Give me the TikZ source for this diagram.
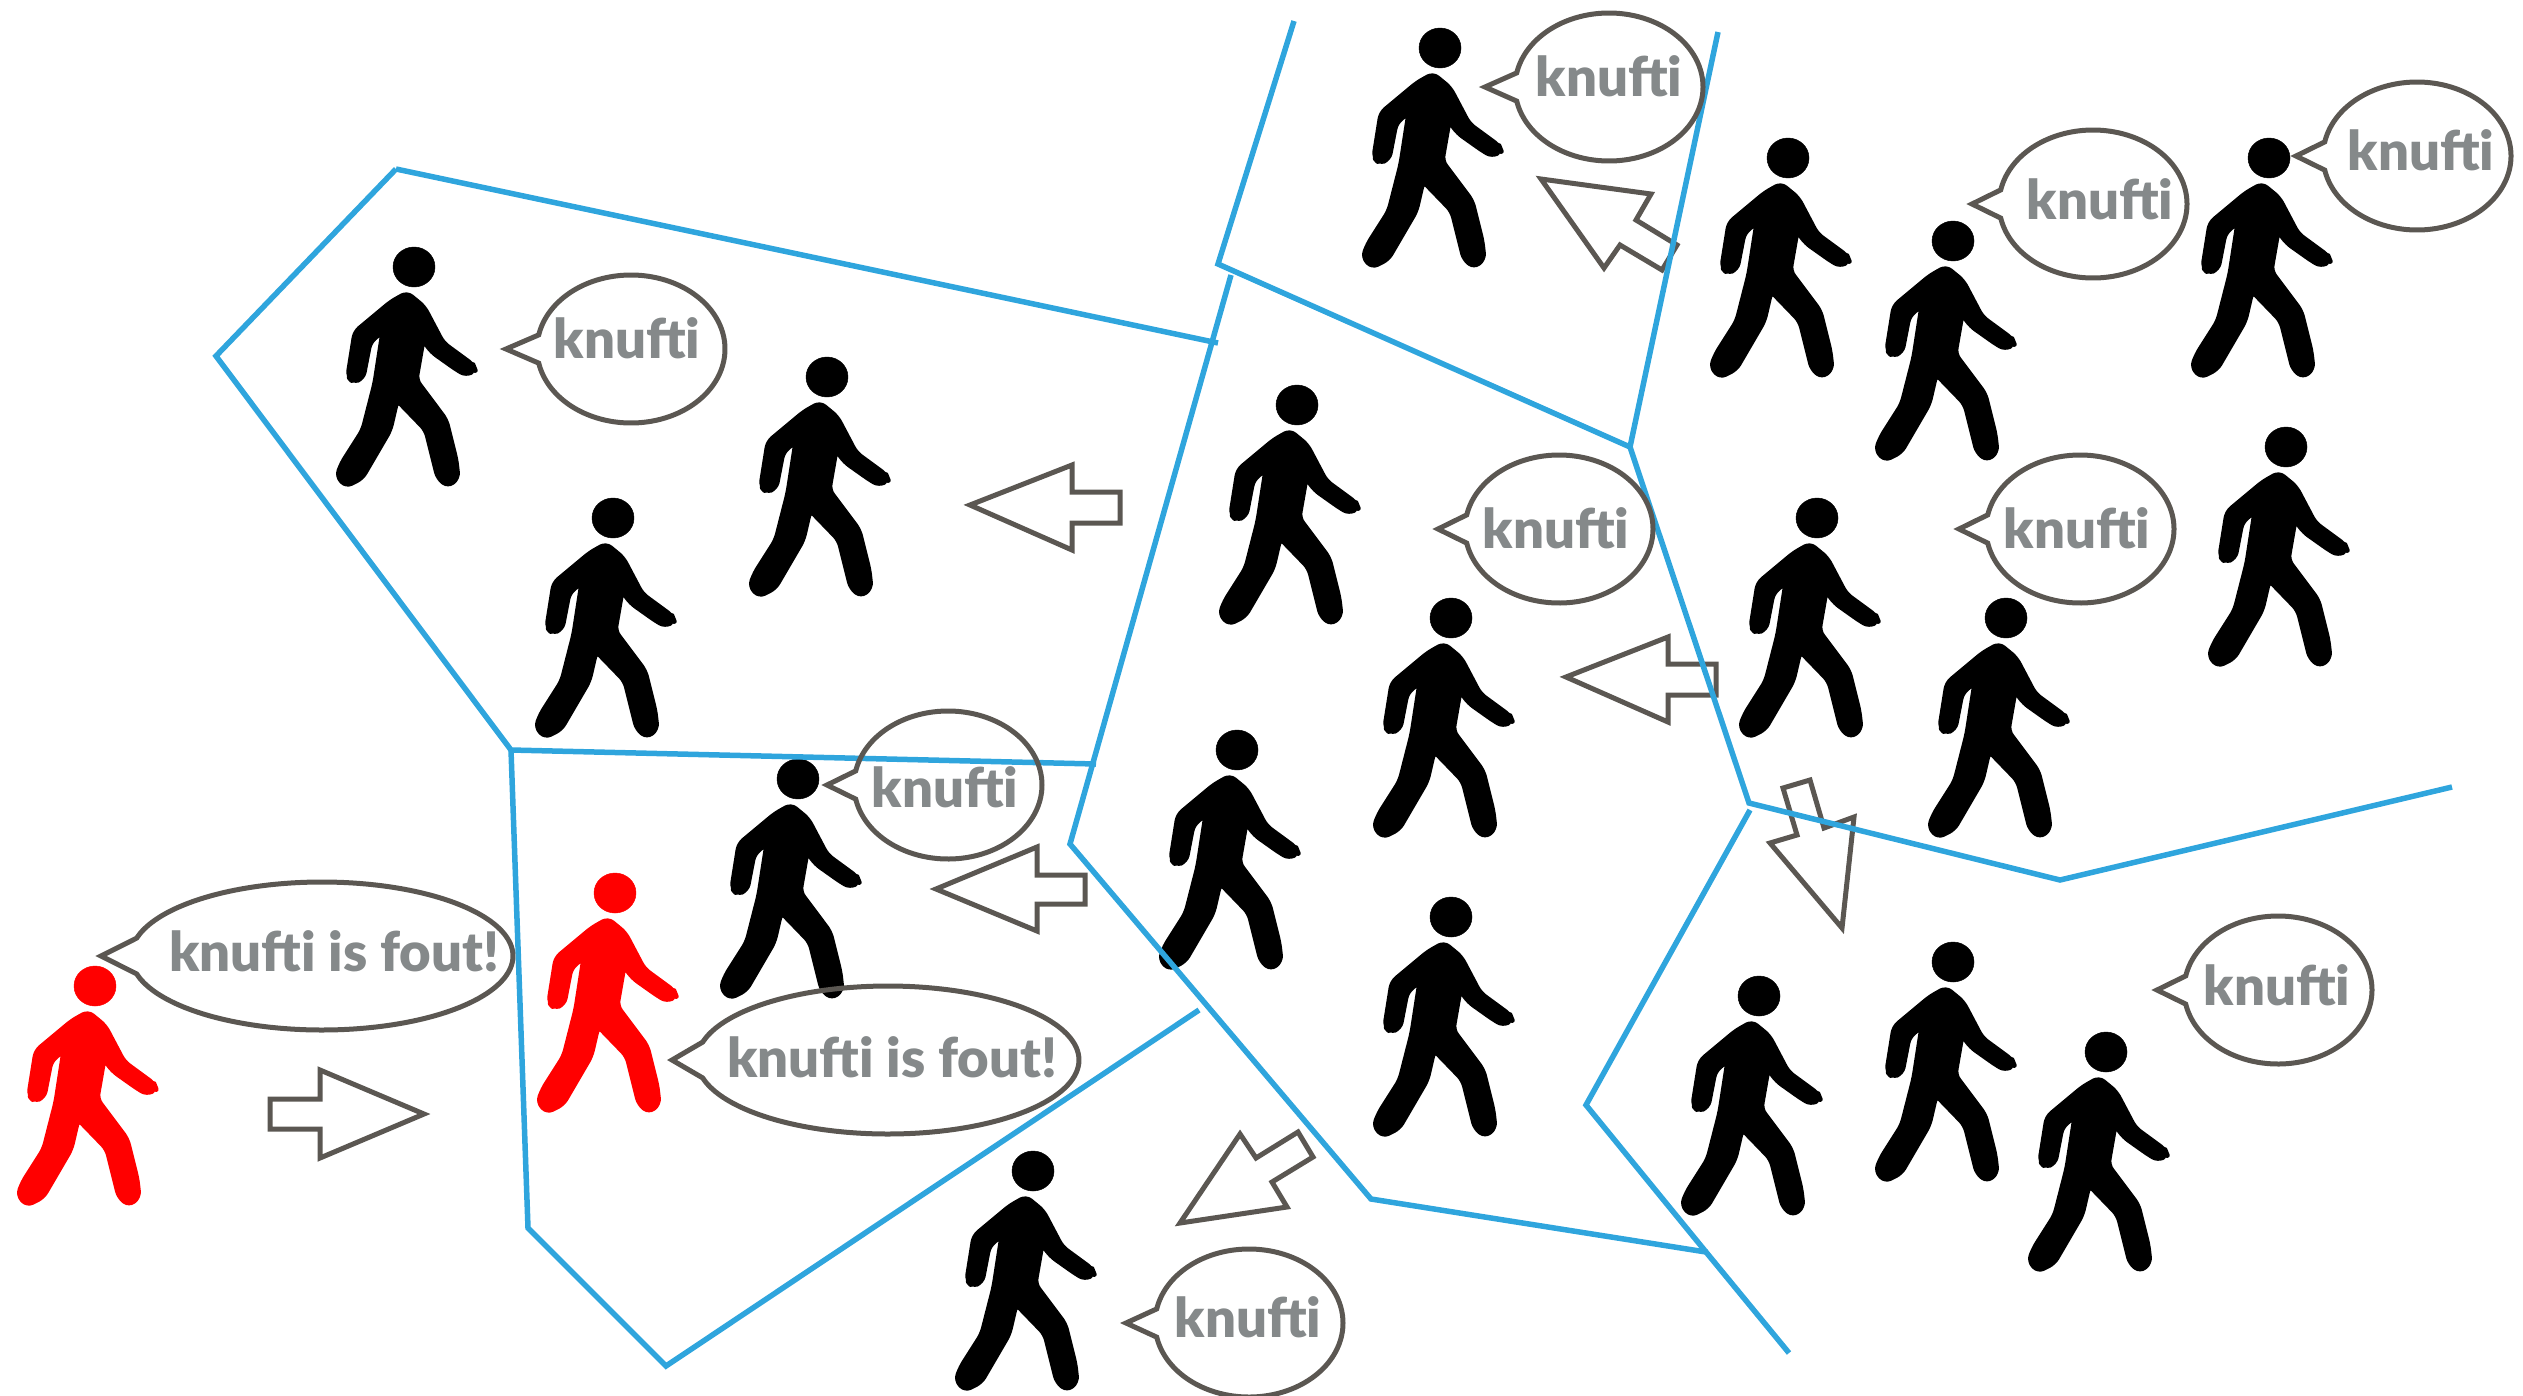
\documentclass[tikz,border=0pt]{standalone}
\usepackage{fontspec}
\setmainfont{Lato}[BoldFont={Lato Black}]
\definecolor{bluel}{HTML}{2FA5DD}
\definecolor{greyl}{HTML}{5B5752}
\definecolor{greyt}{HTML}{85898A}
\definecolor{redp}{HTML}{FF0000}
\tikzset{
  bline/.style={draw=bluel,line width=0.165cm,line join=miter},
  gline/.style={draw=greyl,line width=0.15cm,line join=miter,miter limit=10},
  btext/.style={text=greyt,font=\bfseries\fontsize{46.5}{46.5}\selectfont,anchor=base,inner sep=0pt},
  person/.pic={
    \fill[pic actions] (0,0) circle[x radius=0.63cm,y radius=0.6cm];
    \path[pic actions,draw,line width=0.15cm,line join=round,rounded corners=5pt] (-7,26) -- (10,40) -- (29,76) -- (59,98) -- (61,103) -- (52,108) -- (42,102) -- (18,85) -- (9,73) -- (2,113) -- (32,153) -- (42,193) -- (44,211) -- (34,219) -- (24,211) -- (12,163) -- (-17,133) -- (-24,163) -- (-52,211) -- (-68,219) -- (-77,209) -- (-72,196) -- (-51,163) -- (-39,116) -- (-31,64) -- (-44,75) -- (-51,111) -- (-61,115) -- (-66,109) -- (-59,65) -- (-23,35) -- cycle;
  },
}
\newcommand{\bubbleshape}[6]{%
  \draw[gline] plot[domain=180+#6:540-#6,samples=90,smooth] ({#1+#3*cos(\x)},{#2+#4*sin(\x)}) -- (#5,#2) -- cycle;
}
% name, cx, cy, tipx, text dx, text dy
\newcommand{\smallbubble}[6]{%
  \bubbleshape{#2}{#3}{94}{74}{#4}{11}
  \node[btext] (#1) at ({#2+#5},{#3+#6}) {knufti};
}
\newcommand{\longbubble}[6]{%
  \bubbleshape{#2}{#3}{191}{74}{#4}{14}
  \node[btext] (#1) at ({#2+#5},{#3+#6}) {knufti is fout!};
}
\begin{document}
\begin{tikzpicture}[x=0.03cm,y=-0.03cm]
\useasboundingbox (0,0) rectangle (2523,1395);
% people
\foreach \n/\px/\py in {a/414/267,b/827/377,c/613/518,d/1297/405,e/1451/618,f/1237/750,g/1451/917,h/1440/48,i/1788/158,j/1953/241,k/2269/158,l/1817/518,m/2006/618,n/2286/447,o/1759/996,p/1953/962,q/2106/1052,r/1033/1171,s/798/779}
  \pic (p\n) [fill=black,draw=black] at (\px,\py) {person};
\pic (pred1) [fill=redp,draw=redp] at (615,893) {person};
\pic (pred2) [fill=redp,draw=redp] at (95,986) {person};
% block arrows
\draw[gline] (424,1114) -- (320,1070) -- (320,1099) -- (270,1099) -- (270,1129) -- (320,1129) -- (320,1158) -- cycle;
\draw[gline] (970,505) -- (1072,465) -- (1072,492) -- (1120,492) -- (1120,523) -- (1072,523) -- (1072,550) -- cycle;
\draw[gline] (1566,677) -- (1668,637) -- (1668,664) -- (1716,664) -- (1716,695) -- (1668,695) -- (1668,722) -- cycle;
\draw[gline] (936,889) -- (1037,847) -- (1037,875) -- (1085,875) -- (1085,904) -- (1037,904) -- (1037,931) -- cycle;
\draw[gline] (1541,179) -- (1651,194) -- (1636,220) -- (1677,245) -- (1662,270) -- (1620,245) -- (1604,268) -- cycle;
\draw[gline] (1783,788) -- (1810,780) -- (1824,828) -- (1854,817) -- (1842,928) -- (1770,843) -- (1797,835) -- cycle;
\draw[gline] (1180,1223) -- (1240,1134) -- (1256,1158) -- (1298,1132) -- (1313,1157) -- (1272,1182) -- (1287,1207) -- cycle;
% blue lines
\draw[bline] (396,169) -- (216,356) -- (511,750) -- (1096,764);
\draw[bline] (396,169) -- (1218,343);
\draw[bline] (511,750) -- (528,1228) -- (666,1366) -- (1199,1010);
\draw[bline] (1231,275) -- (1070,844) -- (1371,1199) -- (1706,1252) -- (1789,1353);
\draw[bline] (1294,21) -- (1218,264) -- (1630,447) -- (1718,32);
\draw[bline] (1630,447) -- (1749,803) -- (2060,880) -- (2452,787);
\draw[bline] (1750,810) -- (1586,1105) -- (1706,1252);
% bubbles
\smallbubble{ba}{631}{349}{506}{-4}{9}
\smallbubble{bb}{1609}{87}{1485}{0}{9}
\smallbubble{bc}{2093}{204}{1972}{7}{15}
\smallbubble{bd}{2417}{156}{2296}{4}{14}
\smallbubble{be}{1559}{529}{1438}{-3}{19}
\smallbubble{bf}{2080}{529}{1959}{-3}{19}
\smallbubble{bg}{948}{785}{827}{-3}{22}
\smallbubble{bh}{2278}{990}{2157}{-1}{15}
\smallbubble{bi}{1249}{1323}{1126}{-1}{14}
\longbubble{bj}{322}{956}{101}{12}{15}
\longbubble{bk}{888}{1060}{672}{4}{17}
\end{tikzpicture}
\end{document}
